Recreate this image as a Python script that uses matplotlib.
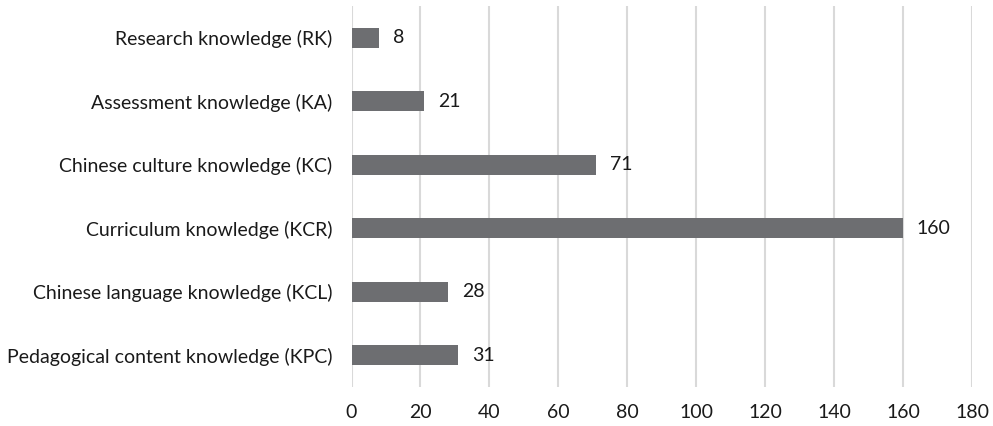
import matplotlib
matplotlib.use("Agg")
import matplotlib.pyplot as plt

categories = [
    "Pedagogical content knowledge (KPC)",
    "Chinese language knowledge (KCL)",
    "Curriculum knowledge (KCR)",
    "Chinese culture knowledge (KC)",
    "Assessment knowledge (KA)",
    "Research knowledge (RK)",
]
values = [31, 28, 160, 71, 21, 8]
xticks = [0, 20, 40, 60, 80, 100, 120, 140, 160, 180]

plt.rcParams['font.family'] = ['Lato', 'DejaVu Sans']

fig = plt.figure(figsize=(9.93, 4.26), dpi=100)
ax = fig.add_axes([351.5/993, 1-387/426, (972-351.5)/993, (387-6)/426])

y = list(range(len(categories)))
ax.barh(y, values, height=0.315, color="#6d6e71", zorder=3)
for yi, v in zip(y, values):
    ax.annotate(str(v), (v, yi), xytext=(10, 0), textcoords="offset points",
                va="center", ha="left", fontsize=14, color="#1a1a1a")

ax.set_xlim(0, 180)
ax.set_ylim(-0.5, len(categories)-0.5)
ax.set_xticks(xticks)
ax.set_xticklabels([str(t) for t in xticks])
ax.set_yticks(y)
ax.set_yticklabels(categories)
ax.grid(axis="x", color="#d9d9d9", linewidth=1.5, zorder=0)
for s in ax.spines.values():
    s.set_visible(False)
ax.tick_params(axis="both", length=0, labelsize=14, colors="#1a1a1a")
ax.tick_params(axis="y", pad=14)
ax.tick_params(axis="x", pad=12)

fig.savefig("out.png", dpi=100)
